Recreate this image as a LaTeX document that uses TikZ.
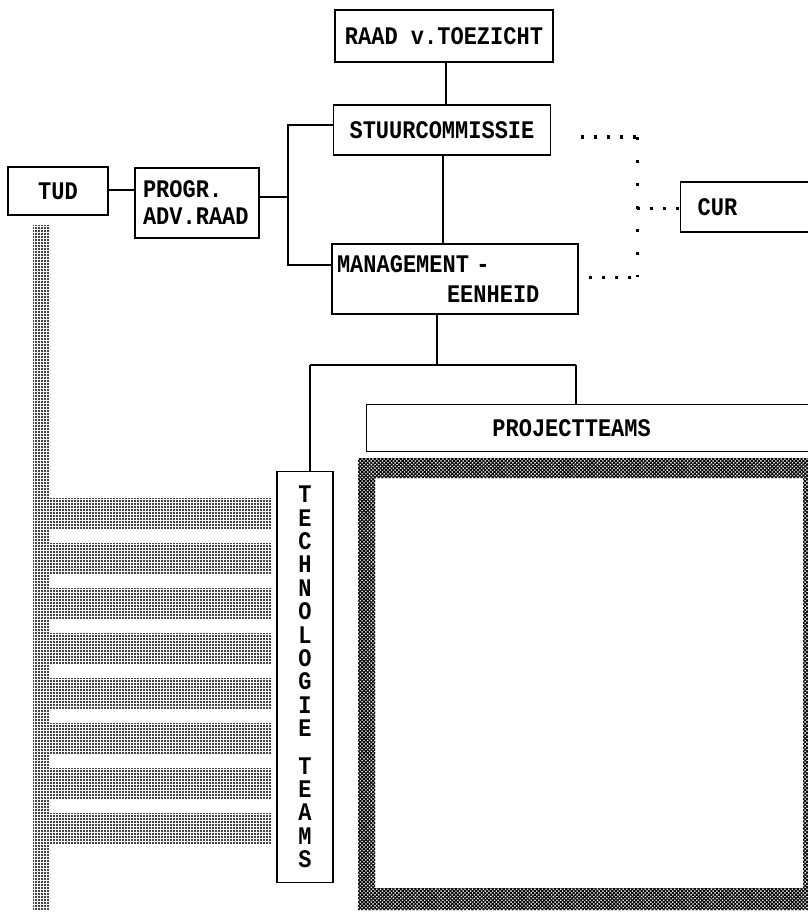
\documentclass[tikz,border=0pt]{standalone}
\usepackage{fontspec}
\newfontfamily\monof{Liberation Mono}[BoldFont={Liberation Mono Bold}]
\usetikzlibrary{patterns,patterns.meta}
\newcommand{\tall}[1]{\scalebox{1}[1.15]{#1}}
\begin{document}
\begin{tikzpicture}[x=1pt,y=-1pt,
  box/.style={draw, line width=1.3pt, rectangle, inner sep=0pt, font=\monof\bfseries\fontsize{22}{26}\selectfont},
  link/.style={line width=1.3pt},
  dotlink/.style={line width=3pt, dash pattern=on 3pt off 10pt},
  vdotlink/.style={line width=3pt, dash pattern=on 3pt off 20pt},
  dotfill/.style={pattern={Dots[distance=3pt,radius=1.1pt]}},
  hatch/.style={pattern={Lines[angle=45,distance=2.6pt,line width=1.1pt]}},
  hatch2/.style={pattern={Lines[angle=-45,distance=2.6pt,line width=1.1pt]}}
]
\useasboundingbox (0,0) rectangle (807,915);

% nodes
\node[box, minimum width=218, minimum height=52] (raad) at (444,36) {\tall{RAAD v.TOEZICHT}};
\node[box, minimum width=217, minimum height=50] (stuur) at (442,130) {\tall{STUURCOMMISSIE}};
\node[box, minimum width=100, minimum height=48] (tud) at (58,191) {\tall{TUD}};
\node[box, minimum width=124, minimum height=70, align=left, text width=108] (progr) at (197,203) {\tall{PROGR.}\\[1pt]\tall{ADV.RAAD}};
\node[box, minimum width=130, minimum height=50, anchor=west, text width=114, align=left] (cur) at (680,207) {\hspace*{9pt}\tall{CUR}};
\node[box, minimum width=246, minimum height=70, align=left, text width=236] (man) at (455,279) {\tall{MANAGEMENT -}\\[4pt]\hspace*{110pt}\tall{EENHEID}};
\node[box, minimum width=470, minimum height=47, anchor=west,
  label={[font=\monof\bfseries\fontsize{22}{26}\selectfont, xshift=-30pt]center:\tall{PROJECTTEAMS}}] (proj) at (366,428) {};
\node[box, minimum width=56, minimum height=411, align=center,
  font=\monof\bfseries\fontsize{22}{23.4}\selectfont] (tech) at (305,677)
  {\tall{T}\\\tall{E}\\\tall{C}\\\tall{H}\\\tall{N}\\\tall{O}\\\tall{L}\\\tall{O}\\\tall{G}\\\tall{I}\\\tall{E}\\[14pt]\tall{T}\\\tall{E}\\\tall{A}\\\tall{M}\\\tall{S}};

% coordinates
\coordinate (pj) at (288,197);
\coordinate (pjt) at (288,125);
\coordinate (pjb) at (288,265);
\coordinate (mj) at (437,365);
\coordinate (ml) at (310,365);
\coordinate (mr) at (576,365);
\coordinate (dA) at (637,137);
\coordinate (dB) at (637,277);
\coordinate (dC) at (637,208);

% solid connectors
\draw[link] (raad.south -| 446,0) -- (stuur.north -| 446,0);
\draw[link] (stuur.south -| 443,0) -- (man.north -| 443,0);
\draw[link] (tud.east |- 0,190) -- (progr.west |- 0,190);
\draw[link] (progr.east |- pj) -- (pj);
\draw[link] (stuur.west |- pjt) -- (pjt) -- (pjb) -- (man.west |- pjb);
\draw[link] (man.south -| mj) -- (mj);
\draw[link] (ml) -- (mr);
\draw[link] (ml) -- (tech.north -| ml);
\draw[link] (mr) -- (proj.north -| mr);

% dotted connectors to CUR
\draw[dotlink] ([xshift=30pt]stuur.east |- dA) -- (dA);
\draw[dotlink] ([xshift=10pt]man.east |- dB) -- (dB);
\draw[vdotlink] (dA) -- (dB);
\draw[dotlink] (dC) -- (cur.west |- dC);

% TUD dotted ladder
\fill[dotfill] (33,225) rectangle (50,910);
\foreach \i in {0,...,7} {
  \fill[dotfill] (50,{498+45*\i}) rectangle (272,{528+45*\i});
}

% hatched project frame
\fill[hatch, even odd rule] (358,458) rectangle (830,910) (375,478) rectangle (803,888);
\fill[hatch2, even odd rule] (358,458) rectangle (830,910) (375,478) rectangle (803,888);
\end{tikzpicture}
\end{document}
